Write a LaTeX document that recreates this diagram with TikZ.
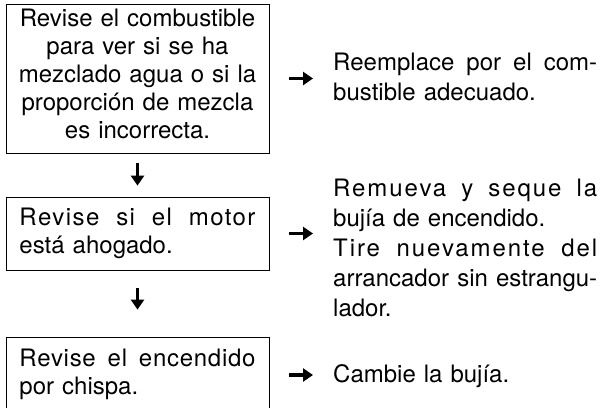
\documentclass[tikz,border=0pt]{standalone}
\usepackage{fontspec}
\setmainfont{TeX Gyre Heros}
\usetikzlibrary{arrows.meta}

% full-width line, letters spaced out a bit
\newcommand{\spreadline}[3][5]{\leavevmode\hbox to #2{\addfontfeature{LetterSpace=#1}%
  \spaceskip=0.28em plus 1fil\strut #3}}

\begin{document}
\begin{tikzpicture}[
  x=1pt, y=-1pt,
  chkbox/.style = {draw, line width=0.8pt, inner sep=0pt,
                   minimum width=263pt, text width=236pt,
                   font=\fontsize{24}{28}\selectfont},
  fixtxt/.style = {inner sep=0pt, anchor=north west, text width=264pt,
                   align=left, font=\fontsize{24}{30}\selectfont},
  fixarr/.style = {-{Triangle[length=10pt,width=13pt]}, line width=3.6pt},
]
\useasboundingbox (0,0) rectangle (602,407);
\clip (0,0) rectangle (602,407);

% Checks (left column)
\node[chkbox, minimum height=149pt, text width=256pt, align=center] (c1) at (137.5,78.5)
  {\strut Revise el combustible\\para ver si se ha\\mezclado agua o si la\\
   proporción de mezcla\\es incorrecta.\rule[-12pt]{0pt}{1pt}};
\node[chkbox, minimum height=73pt, align=left] (c2) at (137.5,233.5)
  {\spreadline[6]{236pt}{Revise si el motor}\\está ahogado.\strut};
\node[chkbox, minimum height=76pt, align=left] (c3) at (137.5,375)
  {\spreadline[3]{236pt}{Revise el encendido}\\por chispa.\strut};

% Remedies (right column)
\node[fixtxt] (r1) at (333,49)
  {\spreadline[0]{264pt}{Reemplace por el com-}\\bustible adecuado.\strut};
\node[fixtxt] (r2) at (333,175)
  {\spreadline[8]{264pt}{Remueva y seque la}\\bujía de encendido.\\
   \spreadline[8]{264pt}{Tire nuevamente del}\\
   \spreadline[0]{264pt}{arrancador sin estrangu-}\\lador.\strut};
\node[fixtxt] (r3) at (333,361) {\strut Cambie la bujía.};

% Next check
\draw[fixarr, shorten <=10pt, shorten >=11pt] (c1) -- (c2);
\draw[fixarr, shorten <=18pt, shorten >=27pt] (c2) -- (c3);

% Remedy arrows
\draw[fixarr, shorten <=20pt, shorten >=20pt] (c1.east) -- (c1.east -| r1.west);
\draw[fixarr, shorten <=20pt, shorten >=20pt] (c2.east) -- (c2.east -| r2.west);
\draw[fixarr, shorten <=20pt, shorten >=20pt] (c3.east) -- (c3.east -| r3.west);

\end{tikzpicture}
\end{document}
